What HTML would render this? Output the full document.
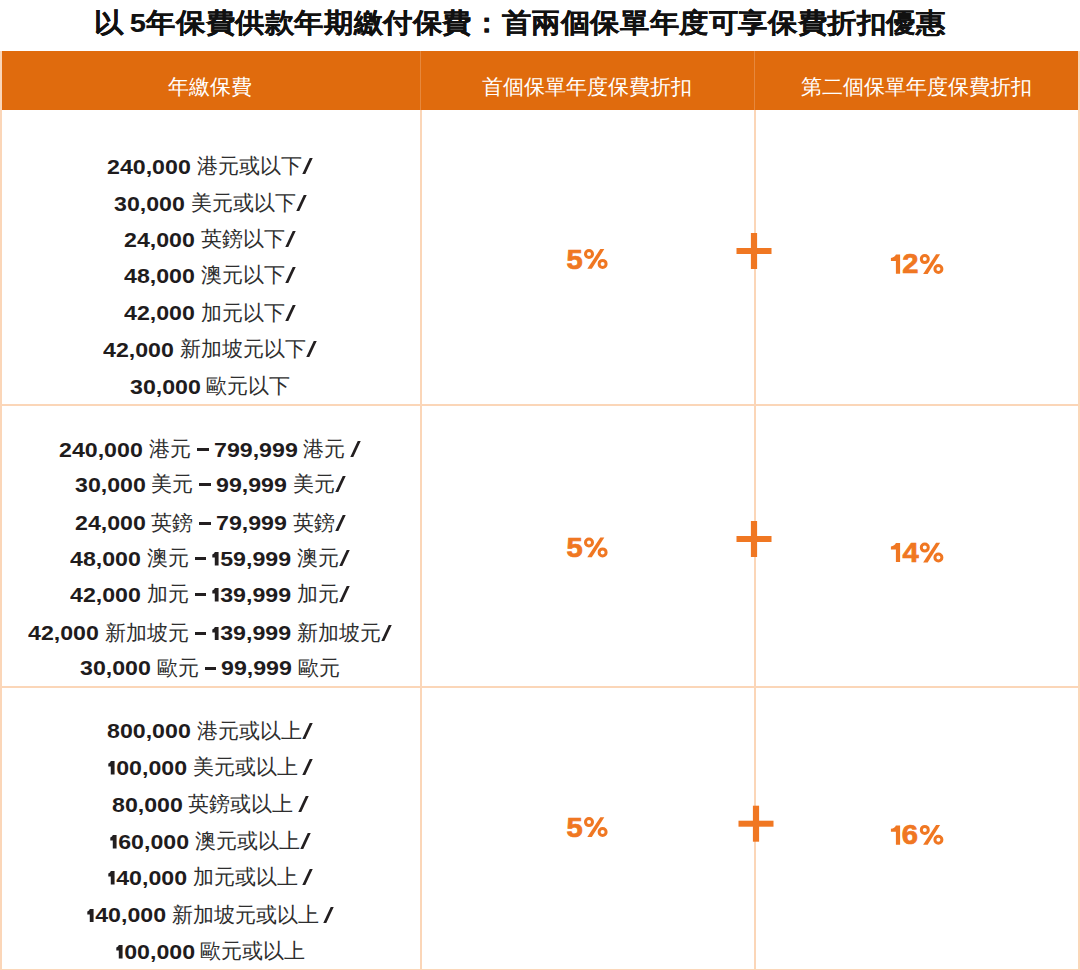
<!DOCTYPE html><html><head><meta charset="utf-8"><style>
html,body{margin:0;padding:0;background:#fff;}
body{width:1080px;height:970px;position:relative;overflow:hidden;font-family:"Liberation Sans",sans-serif;color:#231f20;}
.a{position:absolute;}
.title{left:0;width:1080px;text-align:center;font-weight:bold;color:#111;white-space:nowrap;-webkit-text-stroke:0.15px #111;letter-spacing:0.6px;transform:scaleY(0.92);transform-origin:50% 24px;}
.hd{top:51px;height:59px;left:0;width:1080px;background:#e06b0d;}
.ht{color:#fff;text-align:center;white-space:nowrap;}
.ln{white-space:nowrap;text-align:center;height:30px;line-height:30px;font-size:21px;letter-spacing:0px;color:#2e2e2e;}
.ln b{font-size:19.6px;letter-spacing:0px;font-weight:bold;}
.ln b.n{display:inline-block;vertical-align:top;text-align:left;position:relative;top:0.8px;color:#1f1c1d;}
.ln svg.o{vertical-align:baseline;}
.ln b.n span{display:inline-block;transform:scaleX(1.183);transform-origin:0 50%;}
.ln i.d{display:inline-block;width:11.5px;height:3px;background:#231f20;vertical-align:5px;margin:0 -0.7px 0 0.3px;}
.ln i.s{display:inline-block;width:2.6px;height:16px;background:#231f20;vertical-align:-1px;transform:skewX(-25deg);margin:0 4px 0 4px;}
.pct{color:#f07722;font-weight:bold;white-space:nowrap;text-align:center;line-height:30px;height:30px;}
.bd{background:#fbd6b8;}
.plus{background:#f07722;}
</style></head><body>

<div class="a title" style="top:3.3px;font-size:29px;left:520px;width:1080px;margin-left:-540px">以<span style="word-spacing:-3px"> </span>5年保費供款年期繳付保費：首兩個保單年度可享保費折扣優惠</div>
<div class="a hd"></div>
<div class="a" style="left:420px;top:51px;width:1px;height:59px;background:rgba(255,255,255,.2)"></div>
<div class="a" style="left:754px;top:51px;width:1px;height:59px;background:rgba(255,255,255,.2)"></div>
<div class="a ht" style="left:0px;width:420px;top:72px;font-size:21px;line-height:30px;height:30px">年繳保費</div>
<div class="a ht" style="left:420px;width:334px;top:72px;font-size:21px;line-height:30px;height:30px">首個保單年度保費折扣</div>
<div class="a ht" style="left:754px;width:325px;top:72px;font-size:21px;line-height:30px;height:30px">第二個保單年度保費折扣</div>
<div class="a bd" style="left:0;top:51px;width:1.7px;height:919px"></div>
<div class="a bd" style="left:1078.4px;top:51px;width:1.6px;height:919px"></div>
<div class="a bd" style="left:420px;top:110px;width:2px;height:860px"></div>
<div class="a bd" style="left:754px;top:110px;width:2px;height:860px"></div>
<div class="a bd" style="left:0;top:404px;width:1080px;height:2px"></div>
<div class="a bd" style="left:0;top:686px;width:1080px;height:2px"></div>
<div class="a bd" style="left:0;top:968.5px;width:1080px;height:1.5px"></div>
<div class="a ln" style="left:0;width:420px;top:151.1px"><b class="n" style="width:83.81px"><span>240,000</span></b> 港元或以下<i class="s"></i></div>
<div class="a ln" style="left:0;width:420px;top:188.0px"><b class="n" style="width:70.92px"><span>30,000</span></b> 美元或以下<i class="s"></i></div>
<div class="a ln" style="left:0;width:420px;top:224.4px"><b class="n" style="width:70.92px"><span>24,000</span></b> 英鎊以下<i class="s"></i></div>
<div class="a ln" style="left:0;width:420px;top:260.0px"><b class="n" style="width:70.92px"><span>48,000</span></b> 澳元以下<i class="s"></i></div>
<div class="a ln" style="left:0;width:420px;top:297.7px"><b class="n" style="width:70.92px"><span>42,000</span></b> 加元以下<i class="s"></i></div>
<div class="a ln" style="left:0;width:420px;top:334.2px"><b class="n" style="width:70.92px"><span>42,000</span></b> 新加坡元以下<i class="s"></i></div>
<div class="a ln" style="left:0;width:420px;top:371.4px"><b class="n" style="width:70.92px"><span>30,000</span></b> 歐元以下</div>
<div class="a ln" style="left:0;width:420px;top:434.1px"><b class="n" style="width:83.81px"><span>240,000</span></b> 港元 <i class="d"></i> <b class="n" style="width:83.81px"><span>799,999</span></b> 港元<i class="s" style="margin-left:8.6px"></i></div>
<div class="a ln" style="left:0;width:420px;top:469.2px"><b class="n" style="width:70.92px"><span>30,000</span></b> 美元 <i class="d"></i> <b class="n" style="width:70.92px"><span>99,999</span></b> 美元<i class="s"></i></div>
<div class="a ln" style="left:0;width:420px;top:507.7px"><b class="n" style="width:70.92px"><span>24,000</span></b> 英鎊 <i class="d"></i> <b class="n" style="width:70.92px"><span>79,999</span></b> 英鎊<i class="s"></i></div>
<div class="a ln" style="left:0;width:420px;top:543.1px"><b class="n" style="width:70.92px"><span>48,000</span></b> 澳元 <i class="d"></i> <b class="n" style="width:80.15px"><span><svg class="o" width="7.8" height="13.6" viewBox="0 0 7.8 13.6"><path transform="translate(1.0 0)" d="M2.2 0H5.4V13.6H2.2V5.5H0.1V2.4C1.2 2.2 2 1.2 2.2 0Z" fill="#231f20"/></svg>59,999</span></b> 澳元<i class="s"></i></div>
<div class="a ln" style="left:0;width:420px;top:579.2px"><b class="n" style="width:70.92px"><span>42,000</span></b> 加元 <i class="d"></i> <b class="n" style="width:80.15px"><span><svg class="o" width="7.8" height="13.6" viewBox="0 0 7.8 13.6"><path transform="translate(1.0 0)" d="M2.2 0H5.4V13.6H2.2V5.5H0.1V2.4C1.2 2.2 2 1.2 2.2 0Z" fill="#231f20"/></svg>39,999</span></b> 加元<i class="s"></i></div>
<div class="a ln" style="left:0;width:420px;top:617.5px"><b class="n" style="width:70.92px"><span>42,000</span></b> 新加坡元 <i class="d"></i> <b class="n" style="width:80.15px"><span><svg class="o" width="7.8" height="13.6" viewBox="0 0 7.8 13.6"><path transform="translate(1.0 0)" d="M2.2 0H5.4V13.6H2.2V5.5H0.1V2.4C1.2 2.2 2 1.2 2.2 0Z" fill="#231f20"/></svg>39,999</span></b> 新加坡元<i class="s"></i></div>
<div class="a ln" style="left:0;width:420px;top:652.7px"><b class="n" style="width:70.92px"><span>30,000</span></b> 歐元 <i class="d"></i> <b class="n" style="width:70.92px"><span>99,999</span></b> 歐元</div>
<div class="a ln" style="left:0;width:420px;top:715.5px"><b class="n" style="width:83.81px"><span>800,000</span></b> 港元或以上<i class="s"></i></div>
<div class="a ln" style="left:0;width:420px;top:752.1px"><b class="n" style="width:80.15px"><span><svg class="o" width="7.8" height="13.6" viewBox="0 0 7.8 13.6"><path transform="translate(1.0 0)" d="M2.2 0H5.4V13.6H2.2V5.5H0.1V2.4C1.2 2.2 2 1.2 2.2 0Z" fill="#231f20"/></svg>00,000</span></b> 美元或以上<i class="s" style="margin-left:8.6px"></i></div>
<div class="a ln" style="left:0;width:420px;top:789.2px"><b class="n" style="width:70.92px"><span>80,000</span></b> 英鎊或以上<i class="s" style="margin-left:8.6px"></i></div>
<div class="a ln" style="left:0;width:420px;top:826.0px"><b class="n" style="width:80.15px"><span><svg class="o" width="7.8" height="13.6" viewBox="0 0 7.8 13.6"><path transform="translate(1.0 0)" d="M2.2 0H5.4V13.6H2.2V5.5H0.1V2.4C1.2 2.2 2 1.2 2.2 0Z" fill="#231f20"/></svg>60,000</span></b> 澳元或以上<i class="s"></i></div>
<div class="a ln" style="left:0;width:420px;top:862.2px"><b class="n" style="width:80.15px"><span><svg class="o" width="7.8" height="13.6" viewBox="0 0 7.8 13.6"><path transform="translate(1.0 0)" d="M2.2 0H5.4V13.6H2.2V5.5H0.1V2.4C1.2 2.2 2 1.2 2.2 0Z" fill="#231f20"/></svg>40,000</span></b> 加元或以上<i class="s" style="margin-left:8.6px"></i></div>
<div class="a ln" style="left:0;width:420px;top:899.6px"><b class="n" style="width:80.15px"><span><svg class="o" width="7.8" height="13.6" viewBox="0 0 7.8 13.6"><path transform="translate(1.0 0)" d="M2.2 0H5.4V13.6H2.2V5.5H0.1V2.4C1.2 2.2 2 1.2 2.2 0Z" fill="#231f20"/></svg>40,000</span></b> 新加坡元或以上<i class="s" style="margin-left:8.6px"></i></div>
<div class="a ln" style="left:0;width:420px;top:936.1px"><b class="n" style="width:80.15px"><span><svg class="o" width="7.8" height="13.6" viewBox="0 0 7.8 13.6"><path transform="translate(1.0 0)" d="M2.2 0H5.4V13.6H2.2V5.5H0.1V2.4C1.2 2.2 2 1.2 2.2 0Z" fill="#231f20"/></svg>00,000</span></b> 歐元或以上</div>
<svg class="a" style="left:0;top:0" width="1080" height="970" viewBox="0 0 1080 970"><g fill="#f07722"><text transform="translate(567.35 268.65) scale(1.08 1)" x="-0.86" y="0" font-family="Liberation Sans" font-weight="bold" font-size="27.02" stroke="#f07722" stroke-width="0.7">5</text><g transform="translate(583.90 249.10)"><circle cx="5.1" cy="4.9" r="3.5" fill="none" stroke="#f07722" stroke-width="3"/><circle cx="18.7" cy="14.8" r="3.5" fill="none" stroke="#f07722" stroke-width="3"/><polygon points="16.4,0 20.4,0 7.9,19.7 3.4,19.7"/></g><text transform="translate(567.35 557.35) scale(1.08 1)" x="-0.86" y="0" font-family="Liberation Sans" font-weight="bold" font-size="27.02" stroke="#f07722" stroke-width="0.7">5</text><g transform="translate(583.90 537.60)"><circle cx="5.1" cy="4.9" r="3.5" fill="none" stroke="#f07722" stroke-width="3"/><circle cx="18.7" cy="14.8" r="3.5" fill="none" stroke="#f07722" stroke-width="3"/><polygon points="16.4,0 20.4,0 7.9,19.7 3.4,19.7"/></g><text transform="translate(567.35 837.35) scale(1.08 1)" x="-0.86" y="0" font-family="Liberation Sans" font-weight="bold" font-size="27.02" stroke="#f07722" stroke-width="0.7">5</text><g transform="translate(583.90 817.20)"><circle cx="5.1" cy="4.9" r="3.5" fill="none" stroke="#f07722" stroke-width="3"/><circle cx="18.7" cy="14.8" r="3.5" fill="none" stroke="#f07722" stroke-width="3"/><polygon points="16.4,0 20.4,0 7.9,19.7 3.4,19.7"/></g><path transform="translate(895.90 254.60)" d="M0 0 H4.2 V19.15 H0 V6.4 H-5 V3.3 C-2.6 3.2 -0.6 1.8 0 0 Z"/><text transform="translate(903.35 273.40) scale(1.08 1)" x="-0.97" y="0" font-family="Liberation Sans" font-weight="bold" font-size="27.02" stroke="#f07722" stroke-width="0.7">2</text><g transform="translate(919.70 254.20)"><circle cx="5.1" cy="4.9" r="3.5" fill="none" stroke="#f07722" stroke-width="3"/><circle cx="18.7" cy="14.8" r="3.5" fill="none" stroke="#f07722" stroke-width="3"/><polygon points="16.4,0 20.4,0 7.9,19.7 3.4,19.7"/></g><path transform="translate(895.90 543.10)" d="M0 0 H4.2 V19.00 H0 V6.4 H-5 V3.3 C-2.6 3.2 -0.6 1.8 0 0 Z"/><text transform="translate(902.85 561.75) scale(1.08 1)" x="-0.42" y="0" font-family="Liberation Sans" font-weight="bold" font-size="27.02" stroke="#f07722" stroke-width="0.7">4</text><g transform="translate(919.70 542.70)"><circle cx="5.1" cy="4.9" r="3.5" fill="none" stroke="#f07722" stroke-width="3"/><circle cx="18.7" cy="14.8" r="3.5" fill="none" stroke="#f07722" stroke-width="3"/><polygon points="16.4,0 20.4,0 7.9,19.7 3.4,19.7"/></g><path transform="translate(895.90 825.40)" d="M0 0 H4.2 V19.40 H0 V6.4 H-5 V3.3 C-2.6 3.2 -0.6 1.8 0 0 Z"/><text transform="translate(902.85 844.15) scale(1.08 1)" x="-1.03" y="0" font-family="Liberation Sans" font-weight="bold" font-size="27.02" stroke="#f07722" stroke-width="0.7">6</text><g transform="translate(919.70 825.00)"><circle cx="5.1" cy="4.9" r="3.5" fill="none" stroke="#f07722" stroke-width="3"/><circle cx="18.7" cy="14.8" r="3.5" fill="none" stroke="#f07722" stroke-width="3"/><polygon points="16.4,0 20.4,0 7.9,19.7 3.4,19.7"/></g><rect x="736.50" y="248.00" width="35" height="6"/><rect x="750.90" y="233.00" width="6.2" height="36"/><rect x="736.50" y="536.00" width="35" height="6"/><rect x="750.90" y="521.00" width="6.2" height="36"/><rect x="738.50" y="820.70" width="35" height="6"/><rect x="752.90" y="805.70" width="6.2" height="36"/></g></svg>
</body></html>
